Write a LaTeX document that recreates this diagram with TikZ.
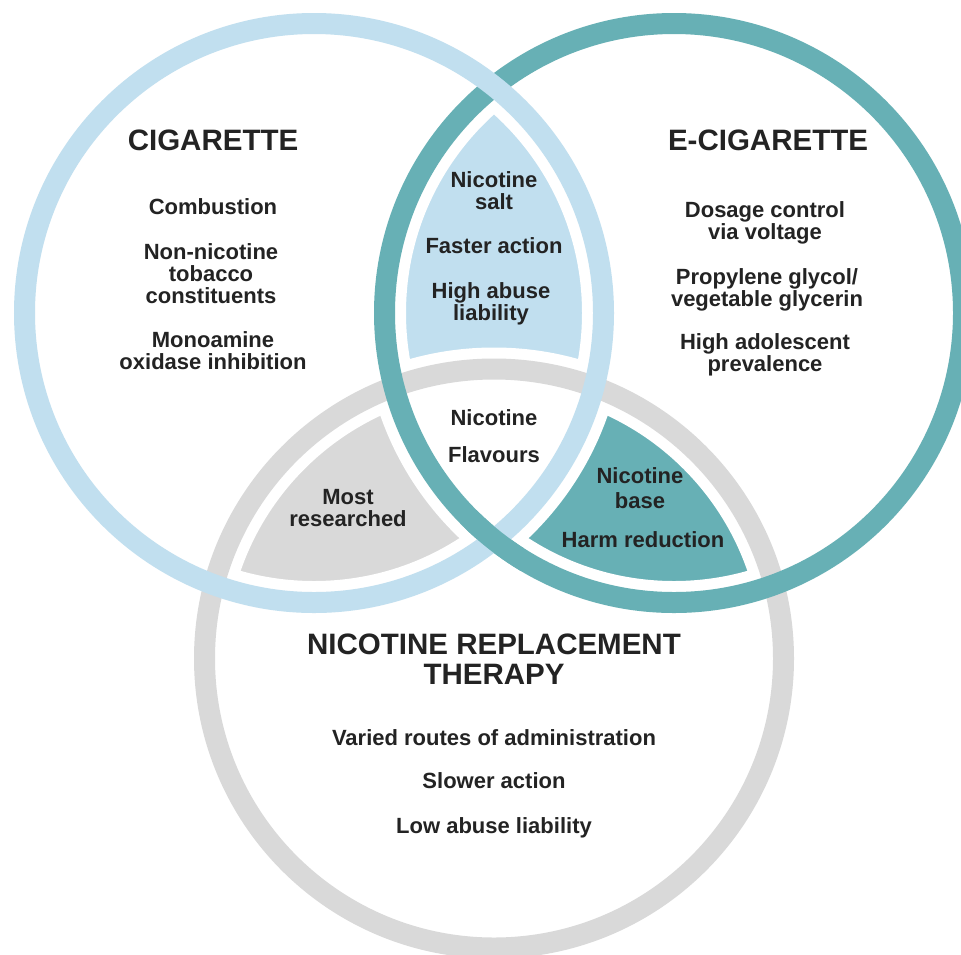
\documentclass[tikz,border=0pt]{standalone}
\usepackage{fontspec}
\setmainfont{Liberation Sans}
\usepackage{tikz}
\definecolor{cigblue}{RGB}{193,223,239}
\definecolor{ecigteal}{RGB}{103,176,181}
\definecolor{nrtgrey}{RGB}{217,217,217}
\definecolor{inkgrey}{RGB}{35,35,35}
\tikzstyle{ring}=[line width=21pt]
\tikzstyle{white gap}=[draw=white, line width=43pt]
\tikzstyle{heading}=[font=\fontsize{29.5}{30}\selectfont\bfseries, text=inkgrey, align=center, inner sep=0pt]
\tikzstyle{entry}=[font=\fontsize{22}{22}\selectfont\bfseries, text=inkgrey, align=center, inner sep=0pt]

\begin{document}
\begin{tikzpicture}[x=1pt, y=-1pt]
    \clip (0,0) rectangle (961,954);
    \fill [white] (0,0) rectangle (961,954);

    \coordinate (cig) at (314,313);
    \coordinate (ecig) at (674,313);
    \coordinate (nrt) at (494,658.5);

    % pairwise overlaps, middle left white
    \begin{scope}
        \clip (cig) circle (300pt);
        \fill [cigblue] (ecig) circle (300pt);
        \fill [nrtgrey] (nrt) circle (300pt);
    \end{scope}
    \begin{scope}
        \clip (ecig) circle (300pt);
        \fill [ecigteal] (nrt) circle (300pt);
        \clip (cig) circle (300pt);
        \fill [white] (nrt) circle (300pt);
    \end{scope}

    \foreach \c in {nrt,cig,ecig}
    \draw [white gap] (\c) circle (289.5pt);

    \draw [ring, nrtgrey] (nrt) circle (289.5pt);
    \draw [ring, ecigteal] (ecig) circle (289.5pt);
    \draw [ring, cigblue] (cig) circle (289.5pt);
    % teal ring on top at the lower crossing
    \begin{scope}
        \clip (464,510) rectangle (524,570);
        \draw [ring, ecigteal] (ecig) circle (289.5pt);
    \end{scope}

    \node [heading] (cig-title) at (213,140) {CIGARETTE};
    \node [entry] (cig-1) at (213,207) {Combustion};
    \node [entry] (cig-2) at (211,274) {Non-nicotine\\tobacco\\constituents};
    \node [entry] (cig-3) at (213,351) {Monoamine\\oxidase inhibition};

    \node [heading] (ecig-title) at (768,140) {E-CIGARETTE};
    \node [entry] (ecig-1) at (765,222.5) {Dosage control\\via voltage};
    \node [entry] (ecig-2) at (767,289.5) {Propylene glycol/\\vegetable glycerin};
    \node [entry] (ecig-3) at (765,355) {High adolescent\\prevalence};

    \node [entry] (salt-1) at (494,191) {Nicotine\\salt};
    \node [entry] (salt-2) at (494,246) {Faster action};
    \node [entry] (salt-3) at (491,303.5) {High abuse\\liability};

    \node [entry] (all-1) at (494,418) {Nicotine};
    \node [entry] (all-2) at (494,455) {Flavours};

    \node [entry] (most) at (348,508) {Most\\researched};

    \node [entry] (base-1) at (640,488) {Nicotine\\[3pt]base};
    \node [entry] (base-2) at (643,540) {Harm reduction};

    \node [heading] (nrt-title) at (494,659) {NICOTINE REPLACEMENT\\THERAPY};
    \node [entry] (nrt-1) at (494,738) {Varied routes of administration};
    \node [entry] (nrt-2) at (494,781) {Slower action};
    \node [entry] (nrt-3) at (494,827.5) {Low abuse liability};
\end{tikzpicture}
\end{document}
